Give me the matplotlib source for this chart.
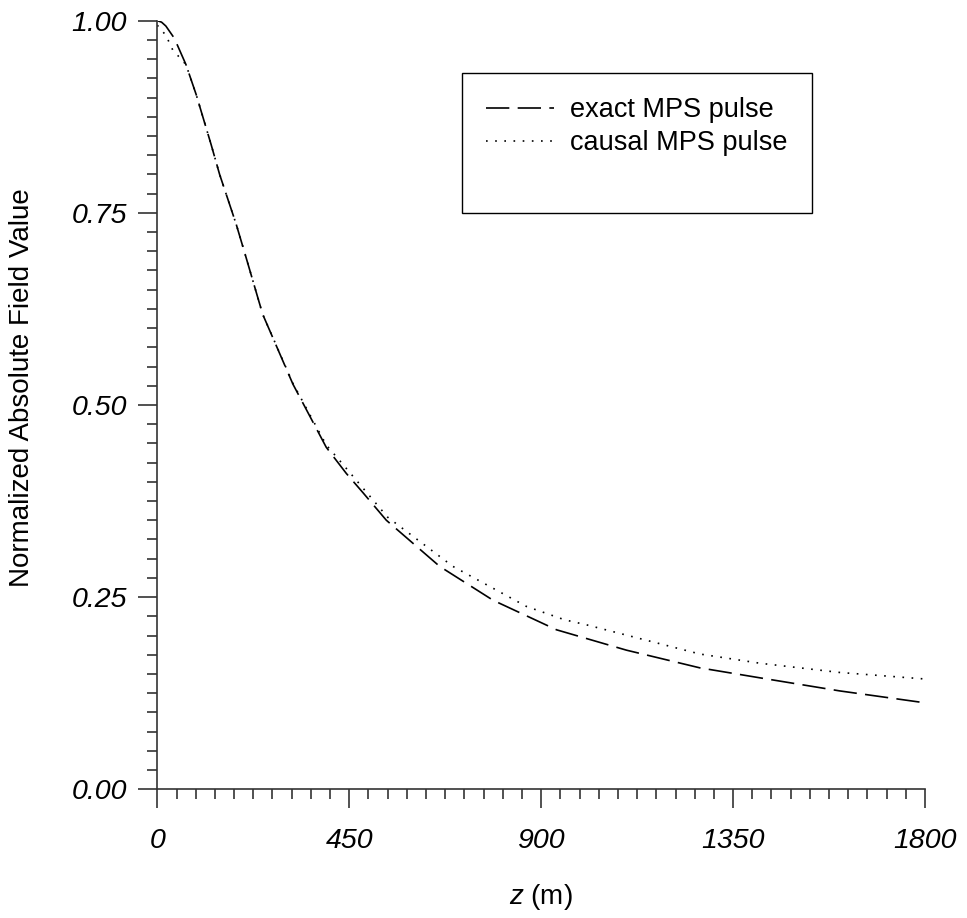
import matplotlib
matplotlib.use("Agg")
import matplotlib.pyplot as plt
from matplotlib.lines import Line2D
from matplotlib.ticker import MultipleLocator, FixedLocator

plt.rcParams['font.family'] = ['Liberation Sans', 'DejaVu Sans']
plt.rcParams['mathtext.fontset'] = 'custom'
plt.rcParams['mathtext.it'] = 'Liberation Sans:italic'
plt.rcParams['mathtext.rm'] = 'Liberation Sans'

# values
z_exact = [0, 10, 20, 40, 67, 91, 126, 146, 185, 208, 247, 318, 396, 443, 482,
           537, 662, 787, 936, 1100, 1272, 1413, 1600, 1800]
exact = [1.0, 0.998, 0.993, 0.977, 0.943, 0.904, 0.839, 0.800, 0.735, 0.692, 0.618,
         0.527, 0.445, 0.411, 0.386, 0.350, 0.290, 0.246, 0.2075, 0.181, 0.158,
         0.145, 0.128, 0.1125]

z_causal = [0, 20, 36, 67, 91, 126, 146, 185, 208, 247, 318, 396, 427, 540, 693,
            865, 955, 1006, 1272, 1413, 1600, 1800]
causal = [0.994, 0.981, 0.962, 0.943, 0.904, 0.839, 0.800, 0.735, 0.692, 0.618,
          0.528, 0.448, 0.428, 0.354, 0.290, 0.238, 0.2205, 0.214, 0.176, 0.164,
          0.152, 0.1435]

x_ticks = [0, 450, 900, 1350, 1800]
y_ticks = [0.0, 0.25, 0.5, 0.75, 1.0]
y_tick_labels = ["0.00", "0.25", "0.50", "0.75", "1.00"]

fig = plt.figure(figsize=(9.67, 9.18), dpi=100)
ax = fig.add_axes([0.1627, 0.1402, 0.7939, 0.8373])

ax.plot(z_exact, exact, color='black', lw=1.2, linestyle=(0, (14, 5)))
ax.plot(z_causal, causal, color='black', lw=1.2, linestyle=(0, (1, 4.5)))

ax.set_xlim(0, 1800)
ax.set_ylim(0, 1.0)
ax.spines['top'].set_visible(False)
ax.spines['right'].set_visible(False)
for s in ('left', 'bottom'):
    ax.spines[s].set_linewidth(1.2)
    ax.spines[s].set_color('#333333')

ax.xaxis.set_major_locator(FixedLocator(x_ticks))
ax.xaxis.set_minor_locator(MultipleLocator(45))
ax.yaxis.set_major_locator(FixedLocator(y_ticks))
ax.yaxis.set_minor_locator(MultipleLocator(0.025))
ax.set_yticklabels(y_tick_labels)

ax.tick_params(which='both', direction='out', color='#333333', width=1.2)
ax.tick_params(which='major', length=14, labelsize=20.5)
ax.tick_params(which='minor', length=7)
ax.tick_params(axis='x', which='major', pad=14)
ax.tick_params(axis='y', which='major', pad=8)
for lab in ax.get_xticklabels() + ax.get_yticklabels():
    lab.set_style('italic')

ax.set_ylabel("Normalized Absolute Field Value", fontsize=20)
ax.yaxis.set_label_coords(-0.159, 0.522)
ax.set_xlabel("$z$ (m)", fontsize=20, labelpad=20)

handles = [Line2D([], [], color='black', lw=1.2, linestyle=(0, (14, 5))),
           Line2D([], [], color='black', lw=1.2, linestyle=(0, (1, 4.5))),
           Line2D([], [], linestyle='none')]
leg = ax.legend(handles, ["exact MPS pulse", "causal MPS pulse", " "],
                loc='upper left', bbox_to_anchor=(462 / 967, 1 - 73 / 918),
                bbox_transform=fig.transFigure, fontsize=19.5,
                handlelength=2.5, handletextpad=0.6, borderpad=0.9,
                labelspacing=0.25, fancybox=False, framealpha=1,
                edgecolor='black', borderaxespad=0)
leg.get_frame().set_linewidth(1.0)

fig.savefig("out.png", dpi=100)
